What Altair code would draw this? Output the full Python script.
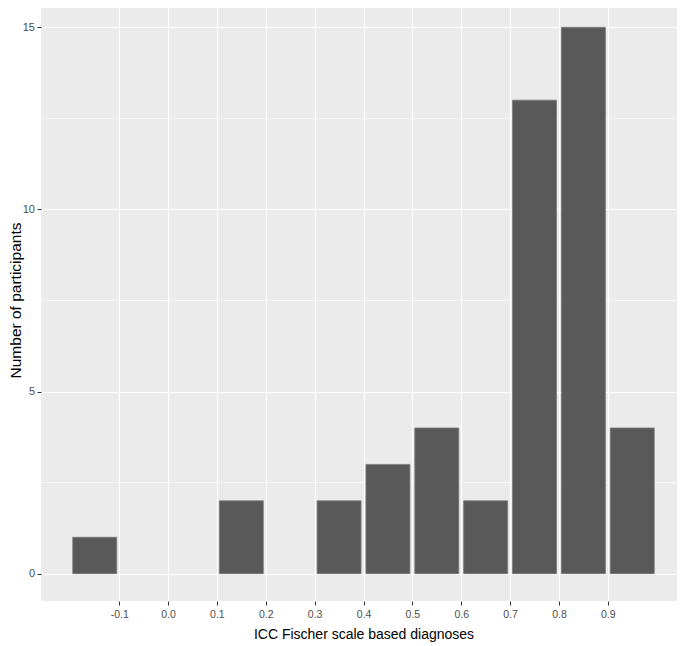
import altair as alt
import pandas as pd

# Histogram bins (left edge of each 0.1-wide bin) and counts
bin_starts = [-0.2, 0.1, 0.3, 0.4, 0.5, 0.6, 0.7, 0.8, 0.9]
counts = [1, 2, 2, 3, 4, 2, 13, 15, 4]

x_ticks = [-0.1, 0.0, 0.1, 0.2, 0.3, 0.4, 0.5, 0.6, 0.7, 0.8, 0.9]
y_ticks = [0, 5, 10, 15]
y_minor = [2.5, 7.5, 12.5]

df = pd.DataFrame({"start": bin_starts, "count": counts})
minor_df = pd.DataFrame({"y": y_minor})

FONT = "Liberation Sans"
xscale = alt.Scale(domain=[-0.26, 1.06], nice=False, zero=False)
yscale = alt.Scale(domain=[-0.75, 15.75], nice=False, zero=False)
y_axis = alt.Axis(
    values=y_ticks,
    title="Number of participants",
    titleFontSize=15.5,
    titleBaseline="alphabetic",
    titleX=-21,
    titleY=300,
    titleAngle=270,
    labelPadding=2.5,
    labelFontSize=11,
)

minor = alt.Chart(minor_df).mark_rule(color="white", strokeWidth=0.6).encode(
    y=alt.Y("y:Q", scale=yscale, axis=y_axis, title="Number of participants")
)

bars = (
    alt.Chart(df)
    .transform_calculate(x0="datum.start + 0.005", x1="datum.start + 0.095")
    .mark_bar(color="#595959", stroke="#7a7a7a", strokeWidth=0.8)
    .encode(
        x=alt.X(
            "x0:Q",
            scale=xscale,
            axis=alt.Axis(
                values=x_ticks,
                title="ICC Fischer scale based diagnoses",
                labelExpr="datum.value < -0.001 ? '-' + format(-datum.value, '.1f') : format(abs(datum.value), '.1f')",
                labelPadding=4,
                labelFontSize=10.5,
                titleFontSize=14,
                titleBaseline="alphabetic",
                titleY=37.5,
            ),
        ),
        x2="x1:Q",
        y=alt.Y("count:Q", scale=yscale, axis=y_axis, title="Number of participants"),
        y2=alt.datum(0),
    )
)

chart = (
    alt.layer(minor, bars)
    .properties(
        width=645,
        height=601,
        autosize=alt.AutoSizeParams(type="none"),
        padding={"left": 33, "top": -8, "right": -9, "bottom": 45},
    )
    .configure_view(fill="#EBEBEB", stroke=None)
    .configure_axis(
        domain=False,
        tickColor="#333333",
        tickSize=4,
        tickWidth=1,
        labelColor="#4D4D4D",
        labelFont=FONT,
        titleFont=FONT,
        titleFontWeight="normal",
        titleColor="black",
        gridColor="white",
        gridWidth=1.1,
    )
)

chart.save("out.html", embed_options={"renderer": "svg", "actions": False})
